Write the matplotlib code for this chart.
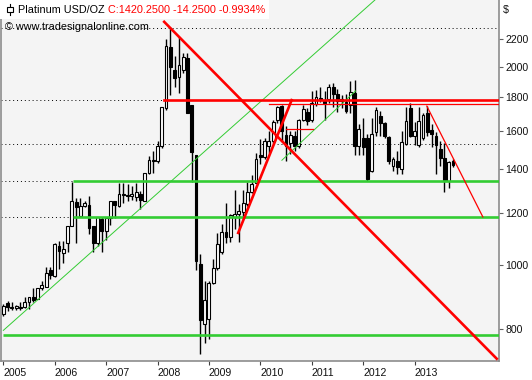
import numpy as np
import matplotlib
matplotlib.use("Agg")
import matplotlib.pyplot as plt
from matplotlib.patches import Rectangle
from matplotlib.lines import Line2D
from matplotlib.ticker import NullLocator

plt.rcParams["font.family"] = ["Liberation Sans", "DejaVu Sans"]

# monthly OHLC bars, first bar sits on the 2005 tick
opens = [844, 877, 866, 861, 866, 864, 879, 897, 890, 923, 926, 984,
         963, 1071, 1043, 1083, 1149, 1247, 1186, 1229, 1233, 1149, 1080, 1175,
         1128, 1178, 1250, 1232, 1283, 1278, 1275, 1269, 1283, 1253, 1381, 1443,
         1439, 1516, 1729, 2144, 1978, 1931, 1978, 2059, 1749, 1469, 1004, 816,
         830, 939, 992, 1048, 1124, 1104, 1182, 1195, 1205, 1240, 1290, 1335,
         1469, 1457, 1514, 1544, 1660, 1743, 1575, 1530, 1568, 1516, 1662, 1706,
         1660, 1756, 1795, 1777, 1787, 1866, 1820, 1773, 1767, 1749, 1825, 1516,
         1557, 1562, 1391, 1590, 1683, 1641, 1567, 1413, 1441, 1400, 1528, 1729,
         1570, 1520, 1560, 1700, 1602, 1568, 1500, 1454, 1343, 1439]
highs = [874, 882, 879, 871, 879, 897, 897, 924, 924, 946, 994, 996,
         1080, 1089, 1089, 1149, 1338, 1265, 1265, 1250, 1273, 1149, 1185, 1182,
         1178, 1250, 1250, 1331, 1331, 1328, 1320, 1331, 1295, 1381, 1464, 1490,
         1544, 1735, 2202, 2299, 2075, 2220, 2099, 2095, 1749, 1469, 1039, 947,
         946, 1024, 1120, 1157, 1243, 1198, 1300, 1240, 1300, 1337, 1373, 1478,
         1553, 1560, 1600, 1660, 1743, 1750, 1627, 1600, 1600, 1669, 1749, 1730,
         1840, 1844, 1860, 1840, 1885, 1888, 1850, 1810, 1820, 1900, 1906, 1640,
         1670, 1580, 1675, 1735, 1712, 1650, 1570, 1462, 1490, 1600, 1735, 1765,
         1650, 1735, 1700, 1742, 1640, 1590, 1545, 1530, 1439, 1447]
lows = [839, 854, 857, 856, 857, 861, 859, 881, 888, 918, 926, 955,
        960, 987, 1010, 1049, 1149, 1080, 1186, 1224, 1117, 1049, 1071, 1049,
        1093, 1152, 1178, 1225, 1241, 1250, 1255, 1250, 1217, 1250, 1374, 1381,
        1431, 1505, 1720, 1811, 1864, 1824, 1954, 1699, 1338, 985, 735, 763,
        774, 937, 983, 1039, 1080, 1085, 1137, 1085, 1178, 1228, 1285, 1332,
        1425, 1450, 1482, 1530, 1645, 1542, 1440, 1477, 1490, 1505, 1655, 1630,
        1650, 1745, 1768, 1660, 1765, 1740, 1710, 1730, 1700, 1700, 1469, 1469,
        1469, 1341, 1385, 1568, 1568, 1560, 1423, 1389, 1374, 1374, 1520, 1565,
        1520, 1510, 1550, 1570, 1510, 1374, 1414, 1291, 1308, 1410]
closes = [867, 866, 862, 867, 861, 881, 897, 887, 924, 935, 975, 968,
          1076, 1051, 1059, 1149, 1250, 1224, 1229, 1241, 1138, 1080, 1185, 1129,
          1178, 1250, 1233, 1283, 1277, 1275, 1281, 1290, 1258, 1381, 1442, 1439,
          1518, 1735, 2151, 1999, 1926, 2011, 2070, 1703, 1486, 1015, 826, 885,
          939, 992, 1076, 1124, 1104, 1191, 1195, 1210, 1245, 1290, 1330, 1451,
          1457, 1541, 1544, 1650, 1738, 1600, 1519, 1575, 1516, 1662, 1723, 1657,
          1761, 1798, 1788, 1760, 1866, 1820, 1773, 1785, 1716, 1833, 1516, 1607,
          1510, 1351, 1582, 1719, 1641, 1570, 1440, 1450, 1410, 1537, 1655, 1570,
          1600, 1656, 1690, 1590, 1584, 1520, 1454, 1343, 1436, 1420]

years = list(range(2005, 2014))
price_ticks = [800, 1000, 1200, 1400, 1600, 1800, 2000, 2200]

# drawn levels and trend lines, (year, price)
dotted_levels = [2288, 1780, 1525, 1341, 1184]
green_levels = [(2006.35, 1341), (2006.35, 1184), (2004.99, 784)]
red_thick_lines = [((2008.13, 2339), (2014.60, 722)),
                   ((2009.57, 1120), (2010.61, 1780)),
                   ((2008.13, 1780), (2014.70, 1780))]
red_thin_lines = [((2010.17, 1753), (2014.70, 1753)),
                  ((2010.50, 1607), (2011.02, 1607)),
                  ((2013.24, 1743), (2014.33, 1184))]
green_thin_lines = [((2005.0, 797), (2012.23, 2524)),
                    ((2010.42, 1443), (2011.855, 1838))]

W, H = 532, 380
fig = plt.figure(figsize=(W / 100, H / 100), dpi=100, facecolor="white")
ax = fig.add_axes([1 / W, 1 - 361 / H, 498 / W, 361 / H])
ax.set_facecolor("#f4f4f4")
ax.set_yscale("log")
ax.set_xlim(2004.955, 2014.644)
ax.set_ylim(716.3, 2524)

o, h, l, c = (np.array(v, float) for v in (opens, highs, lows, closes))
x = 2005 + np.arange(len(c)) / 12
up = c >= o

for lev in dotted_levels:
    ax.axhline(lev, color="black", lw=0.7, ls=(0, (1, 3)), zorder=1)

ax.vlines(x, l, h, color="black", lw=1, zorder=2)
bw = 0.055
ax.bar(x[up], c[up] - o[up], bottom=o[up], width=bw, facecolor="white",
       edgecolor="black", lw=0.8, zorder=3)
ax.bar(x[~up], o[~up] - c[~up], bottom=c[~up], width=bw, facecolor="black",
       edgecolor="black", lw=0.8, zorder=3)

for x0, lev in green_levels:
    ax.hlines(lev, x0, 2014.7, color="#33cc33", lw=1.9, zorder=4)
for (xa, ya), (xb, yb) in green_thin_lines:
    ax.plot([xa, xb], [ya, yb], color="#33cc33", lw=0.7, zorder=4)
for (xa, ya), (xb, yb) in red_thick_lines:
    ax.plot([xa, xb], [ya, yb], color="#ff0000", lw=1.9, zorder=5)
for (xa, ya), (xb, yb) in red_thin_lines:
    ax.plot([xa, xb], [ya, yb], color="#ff0000", lw=0.9, zorder=5)

# axes cosmetics
ax.yaxis.tick_right()
ax.set_yticks(price_ticks)
ax.set_yticklabels([str(p) for p in price_ticks])
ax.yaxis.set_minor_locator(NullLocator())
ax.set_xticks(years)
ax.set_xticklabels([str(y) for y in years])
for lbl in ax.get_xticklabels():
    lbl.set_ha("left")
ax.tick_params(axis="y", direction="out", length=3, width=0.8, color="#606060",
               labelsize=7.6, pad=1.5, labelcolor="#101010")
ax.tick_params(axis="x", direction="out", length=3, width=0.8, color="#404040",
               labelsize=7.6, pad=2, labelcolor="#101010")
for s in ("left", "right", "bottom"):
    ax.spines[s].set_color("#8c8c8c")
    ax.spines[s].set_linewidth(1.2)
ax.spines["top"].set_visible(False)

def fx(px):
    return px / W

def fy(py):
    return 1 - py / H

fig.text(fx(503), fy(10), "$", fontsize=7.6, va="center", ha="left", color="#101010")

# title box: black name, then the red quote right after it
name = fig.text(fx(18), fy(10), "Platinum USD/OZ", fontsize=7.8, va="center", ha="left",
                color="black", zorder=13)
fig.canvas.draw()
name_end = name.get_window_extent().x1 + 3
quote = fig.text(name_end / W, fy(10), "C:1420.2500 -14.2500 -0.9934%", fontsize=7.8,
                 va="center", ha="left", color="#ff0000", zorder=13)
fig.canvas.draw()
box_end = quote.get_window_extent().x1 + 4
fig.add_artist(Rectangle((0, fy(19)), box_end / W, 19 / H, transform=fig.transFigure,
                         facecolor="white", edgecolor="none", zorder=10))
fig.add_artist(Line2D([fx(10), fx(10)], [fy(4), fy(15)], transform=fig.transFigure,
                      color="black", lw=0.8, zorder=11))
fig.add_artist(Rectangle((fx(7.3), fy(12.3)), fx(5.4), 5.6 / H, transform=fig.transFigure,
                         facecolor="white", edgecolor="black", lw=0.8, zorder=12))
fig.text(fx(5), fy(27), "\u00a9 www.tradesignalonline.com", fontsize=7.8, va="center",
         ha="left", color="black", zorder=13)

fig.savefig("out.png", dpi=100, facecolor="white")
